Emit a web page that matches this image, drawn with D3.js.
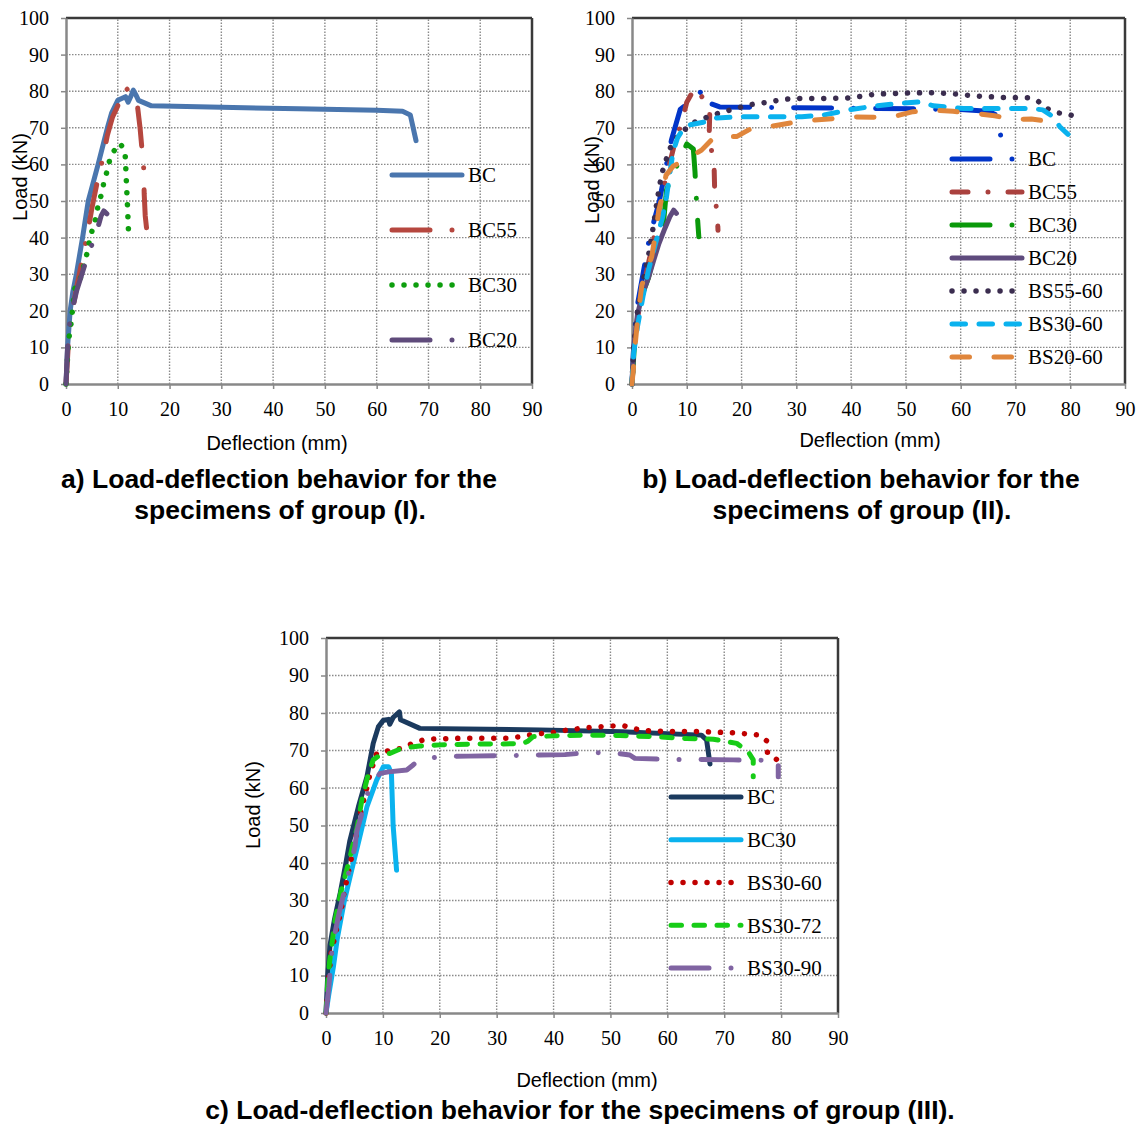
<!DOCTYPE html>
<html>
<head>
<meta charset="utf-8">
<script src="https://cdnjs.cloudflare.com/ajax/libs/d3/7.8.5/d3.min.js"></script>
<style>
  body { margin: 0; background: #fff; }
  svg { display: block; }
  .tick text { font-family: "Liberation Serif", "Times New Roman", serif; font-size: 20px; fill: #000; }
  .ttl { font-family: "Liberation Sans", Arial, sans-serif; font-size: 20px; fill: #000; }
  .cap { font-family: "Liberation Sans", Arial, sans-serif; font-size: 26.5px; font-weight: bold; fill: #000; }
  .leg { font-family: "Liberation Serif", "Times New Roman", serif; font-size: 21px; fill: #000; }
</style>
</head>
<body>
<svg id="chart" width="1140" height="1124"></svg>
<script>
// ticks shared by all three charts
var xTicks = [0, 10, 20, 30, 40, 50, 60, 70, 80, 90];
var yTicks = [0, 10, 20, 30, 40, 50, 60, 70, 80, 90, 100];

// group (I)  [deflection mm, load kN]
var a_BC = [[0,0],[0.3,10],[0.8,20],[1.3,25],[2,30],[3.2,40],[4.3,50],[6.2,60],[8,70],[8.8,74],[10,77.5],[11.5,78.5],[12,77],[12.5,78.5],[13,80.3],[13.5,79],[14,77.5],[16.5,76],[30,75.6],[45,75.2],[60,74.8],[65,74.5],[66.5,73.5],[67.6,66.5]];
var a_BC55 = [[0,0],[0.5,12],[1,18],[2,26],[3,33],[4,40],[5,48],[6,55],[7,61],[8,68],[9,73],[10,76],[10.5,78],[11.5,81],[12.5,79.5],[13.8,76],[14.3,70],[15,59],[15.1,52],[15.3,46],[15.6,42]];
var a_BC30 = [[0,0],[0.5,12],[0.9,15.5],[1.7,26],[2.6,28],[3.2,31],[4.3,37],[4.6,40],[5.3,43],[5.9,46],[6.2,49],[6.9,52],[7.3,55],[7.9,58],[8.4,61],[9,63],[10.1,65.7],[10.7,65.2],[11.4,63.5],[11.5,60.6],[11.6,57.4],[11.7,54],[11.8,51],[11.9,48],[12,44],[12.1,41]];
var a_BC20 = [[0,0],[0.3,10],[0.8,18],[2.1,25.7],[3.5,32],[4.5,36.4],[5.3,39],[5.8,41],[6.2,43],[6.8,46],[7.3,47.3],[7.9,46.5]];

// group (II)
var b_BC = [[0,0],[0.3,10],[0.8,20],[2,30],[3.2,40],[5,50],[6.3,60],[7.2,66.7],[8.8,75],[10,76.5],[11,77.6],[12,79],[13,80.5],[14.2,76.7],[16,75.7],[30,75.5],[45,75.3],[60,75],[65,74.5],[66.5,73.5],[67.5,66.5]];
var b_BC55 = [[0,0],[0.5,12],[1,18],[2,26],[3,33],[4,40],[5,48],[6,55],[7,61],[8,67],[9,71],[10,77],[11.5,81],[12.5,79],[13.6,76.7],[14.2,74.5],[14.1,68.8],[14.5,64],[15,58.7],[15.1,52.4],[15.6,45.4],[15.7,42]];
var b_BC30 = [[0,0],[0.5,12],[1,17],[2,25],[3,29],[4,35],[5,40],[5.8,44.8],[6.3,53],[7.3,57],[8.45,60.4],[10,65.6],[11.2,64.2],[11.5,58],[11.7,52],[11.9,46.5],[12.2,40.2]];
var b_BC20 = [[0,0],[0.3,10],[1,19],[2,25],[3,29],[4,34],[4.9,38.3],[6,42.5],[6.9,45.7],[7.6,47.5],[8.1,46.6]];
var b_BS5560 = [[0,0],[0.3,10],[1,20],[2,28],[3,35],[4,44],[4.6,50.3],[5.4,57.3],[6,60.1],[6.6,63.1],[7.2,65.2],[8.5,68],[10.9,71.2],[13,72.5],[15,73.6],[17,74.5],[19.1,75.3],[21.1,76.2],[23.2,76.7],[25.4,77.1],[27.5,77.8],[30,78],[35,78],[40,78.2],[44.4,79.2],[50,79.5],[55,79.6],[59.3,79.2],[63.5,78.6],[67.8,78.3],[72.3,78.2],[74.1,77.3],[75.7,75.3],[77.6,74.1],[79.6,73.7],[81.6,72.8]];
var b_BS3060 = [[0,0],[0.3,8.4],[1,15.7],[2,23.9],[3,31.1],[4.3,38.4],[5.6,45.7],[6.3,51.2],[6.9,57.5],[7.5,63.5],[8.3,67.2],[9.4,69.9],[10.6,70.8],[13,71.5],[15.5,72.7],[20,73],[25,73],[31,73],[35,73.5],[40,75],[44.7,76],[48.9,76.7],[52.9,77.1],[55,76],[60.5,75.3],[67,75.3],[72.6,75.3],[75,74.9],[76.9,73],[78.1,70.3],[79.6,68.2]];
var b_BS2060 = [[0,0],[0.3,5],[0.6,11.1],[0.9,15.7],[1.6,24.8],[1.8,27],[3.6,34.8],[4.4,42],[4.9,47.5],[5.5,51],[6.2,57],[7.5,59.5],[9.7,61.2],[12.7,63.9],[15.1,67.6],[19.1,67.6],[22,70],[25.7,70.5],[29.7,71.5],[32.5,72],[37.3,72.6],[40.4,73],[44,72.9],[47.6,73],[51.3,74.4],[55,74.8],[58.6,74.5],[62.3,74],[66.2,73.3],[69.3,72.3],[72.9,72.4],[76.3,71.7]];

// group (III)
var c_BC = [[0,0],[0.3,10],[0.7,18],[1.5,25],[2.5,32],[3.5,40],[4.2,46],[5.7,55],[7.2,63],[8.3,71.9],[9.2,76.3],[10.1,78.1],[11,78.3],[11.2,77],[11.8,78.8],[12.9,80.3],[13.1,78.2],[16.5,75.9],[37.6,75.5],[52,75],[66,74.1],[66.9,72.8],[67.5,66.4]];
var c_BC30 = [[0,0],[0.5,5],[1.3,12.3],[2,20],[3.2,29.7],[4.5,38],[5.8,46.1],[7.2,55],[8.9,62.1],[10.1,65.7],[11,65.7],[11.5,63.9],[11.8,50],[12.4,38.1]];
var c_BS3060 = [[0,0],[0.4,8],[0.9,15.9],[1.8,22],[2.7,27.5],[3,30.7],[4,38],[5.1,45.7],[6,53],[7,59],[7.7,63.5],[8.9,69.2],[11.2,70],[13.3,70.6],[15.2,71.9],[17.1,72.8],[19.1,73.1],[25,73.3],[31.8,73.3],[33.8,73.6],[35.7,74.1],[37.6,74.5],[39.7,74.7],[41.7,75.3],[43.8,75.7],[45.8,76.1],[47.9,76.3],[49.9,76.5],[52.1,76.7],[54,75.9],[55.8,75.3],[59.7,75.1],[65.7,75.1],[68,74.9],[72.1,74.7],[76.2,74.1],[77.6,72.4],[77.6,69.2],[78.9,68],[80.4,66.1]];
var c_BS3072 = [[0,0],[0.3,8],[0.6,13.3],[1.6,24.8],[2.7,32.8],[4.1,40.8],[5.5,49.7],[6.3,56.8],[7.4,63.5],[8.3,67.5],[9.5,68.8],[11.2,69.2],[13.3,70.6],[16.5,71.2],[20,71.5],[26,71.7],[34.5,71.8],[35.5,72.5],[36.4,73.7],[40,73.9],[45.8,74.1],[51.7,74],[57.5,73.7],[63.4,73.2],[68.1,73],[72.2,71.9],[74.2,69.7],[75.1,67.5],[75.1,63]];
var c_BS3090 = [[0,0],[0.5,7],[1.1,17.7],[2.3,26.6],[3.7,35.5],[5.1,44.4],[5.4,48.4],[7.4,59],[8.5,62],[9.5,63.9],[11,64.3],[14.2,64.8],[15.2,66],[16.2,67.3],[20,68.4],[25,68.5],[30,68.6],[37.6,68.8],[42,68.9],[45,69.3],[49.9,69.5],[53.4,68.8],[54.3,67.9],[60.5,67.6],[65,67.6],[71.6,67.5],[75.4,67.5],[79.5,67.2],[79.5,63]];

// line styles (round caps, so dash values are shorter than they look)
var SOLID = null;
var LDASHDOT = "38,22,0.01,22";
var DASHDOT = "16,20,0.01,20";
var DOTS = "0.01,12";
var DASH = "13.5,13.5";
var LDASH = "17.5,24.5";
var MDASH = "10.5,12.5";

var svg = d3.select("#chart");

var panels = [
  {
    x0: 66, x1: 532, yb: 384, yt: 18,
    loadX: 20, loadY: 177, deflX: 277, deflY: 443,
    legX: 392, legY: 175, legStep: 55,
    series: [
      { name: "BC", data: a_BC, color: "#4A76AE", dash: SOLID },
      { name: "BC55", data: a_BC55, color: "#B6473F", dash: LDASHDOT },
      { name: "BC30", data: a_BC30, color: "#0E9E0E", dash: DOTS },
      { name: "BC20", data: a_BC20, color: "#5F4B7B", dash: LDASHDOT }
    ],
    caption: [["a) Load-deflection behavior for the", 279, 479], ["specimens of group (I).", 280, 510]]
  },
  {
    x0: 632, x1: 1125, yb: 384, yt: 18,
    loadX: 592, loadY: 180, deflX: 870, deflY: 440,
    legX: 952, legY: 159, legStep: 33,
    series: [
      { name: "BC", data: b_BC, color: "#0235C8", dash: LDASHDOT },
      { name: "BC55", data: b_BC55, color: "#AA413E", dash: DASHDOT },
      { name: "BC30", data: b_BC30, color: "#0A990A", dash: LDASHDOT },
      { name: "BC20", data: b_BC20, color: "#5F4B7D", dash: SOLID },
      { name: "BS55-60", data: b_BS5560, color: "#3B2D4F", dash: DOTS },
      { name: "BS30-60", data: b_BS3060, color: "#0AB2EE", dash: DASH },
      { name: "BS20-60", data: b_BS2060, color: "#E0863C", dash: LDASH }
    ],
    caption: [["b) Load-deflection behavior for the", 861, 479], ["specimens of group (II).", 862, 510]]
  },
  {
    x0: 326, x1: 838, yb: 1013, yt: 638,
    loadX: 253, loadY: 805, deflX: 587, deflY: 1080,
    legX: 671, legY: 797, legStep: 42.75,
    series: [
      { name: "BC", data: c_BC, color: "#1B3A5E", dash: SOLID },
      { name: "BC30", data: c_BC30, color: "#0AB2EE", dash: SOLID },
      { name: "BS30-60", data: c_BS3060, color: "#C00000", dash: DOTS },
      { name: "BS30-72", data: c_BS3072, color: "#17CC17", dash: MDASH },
      { name: "BS30-90", data: c_BS3090, color: "#8064A2", dash: LDASHDOT }
    ],
    caption: [["c) Load-deflection behavior for the specimens of group (III).", 580, 1110]]
  }
];

panels.forEach(function (p) {
  var x = d3.scaleLinear().domain([0, 90]).range([p.x0, p.x1]);
  var y = d3.scaleLinear().domain([0, 100]).range([p.yb, p.yt]);
  var g = svg.append("g");

  // dotted grid
  g.selectAll("line.vg").data(xTicks.slice(1, -1)).enter().append("line")
    .attr("class", "vg")
    .attr("x1", function (d) { return x(d); }).attr("x2", function (d) { return x(d); })
    .attr("y1", y(0)).attr("y2", y(100))
    .attr("stroke", "#8a8a8a").attr("stroke-width", 1.4).attr("stroke-dasharray", "1.5,1.5");
  g.selectAll("line.hg").data(yTicks.slice(1, -1)).enter().append("line")
    .attr("class", "hg")
    .attr("y1", function (d) { return y(d); }).attr("y2", function (d) { return y(d); })
    .attr("x1", x(0)).attr("x2", x(90))
    .attr("stroke", "#8a8a8a").attr("stroke-width", 1.4).attr("stroke-dasharray", "1.5,1.5");

  // top and right frame
  g.append("line").attr("x1", x(0)).attr("x2", x(90)).attr("y1", y(100)).attr("y2", y(100))
    .attr("stroke", "#3a3a3a").attr("stroke-width", 2.5);
  g.append("line").attr("x1", x(90)).attr("x2", x(90)).attr("y1", y(100)).attr("y2", y(0))
    .attr("stroke", "#3a3a3a").attr("stroke-width", 2.5);

  // axes
  var xa = g.append("g").attr("transform", "translate(0," + y(0) + ")")
    .call(d3.axisBottom(x).tickValues(xTicks).tickSize(5).tickPadding(13).tickSizeOuter(0));
  var ya = g.append("g").attr("transform", "translate(" + x(0) + ",0)")
    .call(d3.axisLeft(y).tickValues(yTicks).tickSize(5).tickPadding(12).tickSizeOuter(0));
  [xa, ya].forEach(function (a) {
    a.select(".domain").attr("stroke", "#888").attr("stroke-width", 2.5);
    a.selectAll(".tick line").attr("stroke", "#888").attr("stroke-width", 1.5);
    a.attr("font-family", null).attr("font-size", null);
  });

  // curves
  var line = d3.line().x(function (d) { return x(d[0]); }).y(function (d) { return y(d[1]); });
  p.series.forEach(function (s) {
    g.append("path").datum(s.data)
      .attr("d", line)
      .attr("fill", "none")
      .attr("stroke", s.color)
      .attr("stroke-width", s.dash === DOTS ? 5.5 : 5)
      .attr("stroke-linecap", "round")
      .attr("stroke-linejoin", "round")
      .attr("stroke-dasharray", s.dash);
  });

  // legend
  p.series.forEach(function (s, i) {
    var ly = p.legY + i * p.legStep;
    g.append("line")
      .attr("x1", p.legX).attr("x2", p.legX + 70).attr("y1", ly).attr("y2", ly)
      .attr("stroke", s.color)
      .attr("stroke-width", s.dash === DOTS ? 5.5 : 5)
      .attr("stroke-linecap", "round")
      .attr("stroke-dasharray", s.dash);
    g.append("text").attr("class", "leg")
      .attr("x", p.legX + 76).attr("y", ly).attr("dy", "0.35em")
      .text(s.name);
  });

  // axis titles
  g.append("text").attr("class", "ttl")
    .attr("transform", "translate(" + p.loadX + "," + p.loadY + ") rotate(-90)")
    .attr("text-anchor", "middle").attr("dy", "0.35em")
    .text("Load (kN)");
  g.append("text").attr("class", "ttl")
    .attr("x", p.deflX).attr("y", p.deflY).attr("dy", "0.35em")
    .attr("text-anchor", "middle")
    .text("Deflection (mm)");

  // captions under each chart
  p.caption.forEach(function (c) {
    g.append("text").attr("class", "cap")
      .attr("x", c[1]).attr("y", c[2]).attr("dy", "0.35em")
      .attr("text-anchor", "middle")
      .text(c[0]);
  });
});
</script>
</body>
</html>
